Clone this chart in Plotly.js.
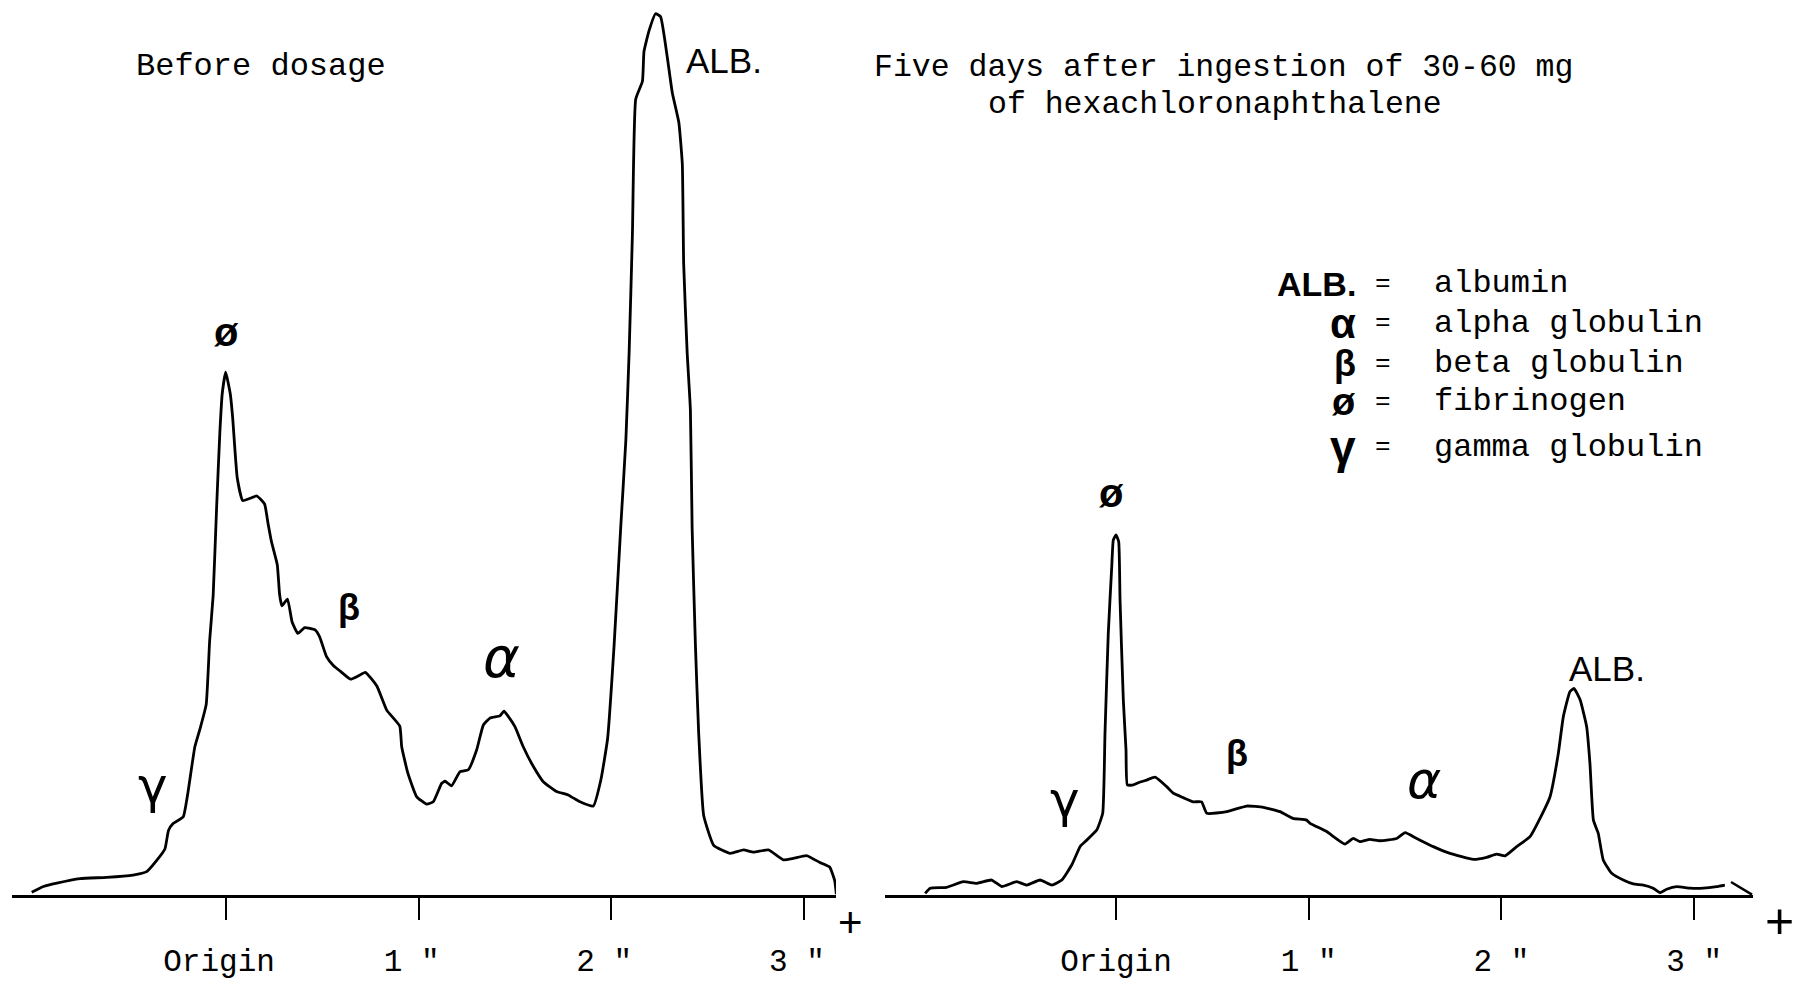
<!DOCTYPE html>
<html>
<head>
<meta charset="utf-8">
<script src="https://cdn.plot.ly/plotly-3.0.1.min.js"></script>
<style>
html,body{margin:0;padding:0;background:#fff;}
#chart{width:1796px;height:984px;}
</style>
</head>
<body>
<div id="chart"></div>
<script>
// ---- Data: densitometer traces (distance from origin in inches, relative density) ----
const beforeX = [-1.009,-0.948,-0.879,-0.758,-0.620,-0.483,-0.412,-0.359,-0.317,-0.299,-0.275,-0.222,-0.198,-0.162,-0.133,-0.103,-0.085,-0.067,-0.049,-0.032,-0.020,-0.002,0.022,0.034,0.058,0.087,0.159,0.200,0.218,0.236,0.266,0.278,0.290,0.319,0.343,0.373,0.408,0.462,0.486,0.521,0.557,0.593,0.646,0.688,0.723,0.783,0.834,0.902,0.912,0.944,0.990,1.042,1.076,1.119,1.137,1.171,1.215,1.258,1.301,1.336,1.370,1.422,1.443,1.466,1.500,1.543,1.595,1.647,1.716,1.776,1.838,1.907,1.946,1.981,2.015,2.049,2.076,2.093,2.110,2.127,2.162,2.170,2.196,2.230,2.256,2.291,2.317,2.351,2.369,2.376,2.394,2.411,2.420,2.437,2.454,2.480,2.532,2.618,2.687,2.739,2.816,2.894,2.945,3.014,3.083,3.134,3.160,3.169];
const beforeY = [0.26,0.91,1.30,1.82,1.95,2.21,2.60,3.90,5.20,7.28,8.06,8.84,11.57,16.78,18.99,21.59,28.87,33.94,43.95,52.54,56.83,59.30,56.83,54.23,47.33,44.73,45.25,44.34,42.13,40.05,37.45,34.07,32.77,33.55,30.95,29.65,30.30,30.04,29.26,27.05,26.01,25.36,24.45,24.84,25.23,23.67,20.94,19.12,16.78,13.78,11.10,10.27,10.53,12.61,12.87,12.35,13.95,14.17,16.41,19.25,20.03,20.29,20.81,20.20,19.06,16.78,14.56,12.81,11.70,11.31,10.53,10.05,13.00,17.69,28.35,41.61,51.63,61.64,75.03,90.30,92.33,95.71,98.05,100.00,99.67,95.06,91.03,87.65,82.96,71.65,61.64,55.01,41.61,28.35,18.34,8.97,5.59,4.68,5.07,4.81,5.07,3.95,4.10,4.42,3.64,3.12,1.61,0.00];

const afterX = [-0.990,-0.964,-0.878,-0.792,-0.723,-0.645,-0.593,-0.515,-0.463,-0.394,-0.333,-0.281,-0.229,-0.186,-0.160,-0.100,-0.069,-0.057,-0.040,-0.022,-0.014,0.000,0.014,0.021,0.038,0.052,0.059,0.090,0.116,0.159,0.203,0.263,0.298,0.349,0.401,0.444,0.471,0.575,0.678,0.765,0.851,0.919,0.989,1.007,1.093,1.188,1.231,1.266,1.317,1.370,1.456,1.500,1.560,1.646,1.733,1.854,1.923,1.975,2.018,2.079,2.148,2.200,2.252,2.295,2.321,2.355,2.376,2.408,2.442,2.459,2.477,2.502,2.528,2.572,2.632,2.684,2.736,2.787,2.822,2.857,2.909,2.978,3.047,3.116,3.159];
const afterY = [0.13,0.72,0.82,1.46,1.27,1.65,0.91,1.46,1.08,1.65,1.08,1.65,3.38,5.46,6.01,7.32,9.23,18.34,29.65,37.23,40.25,40.83,40.05,33.45,22.11,16.41,12.44,12.44,12.70,13.00,13.32,12.25,11.50,11.00,10.53,10.53,9.23,9.41,10.05,9.91,9.41,8.65,8.45,8.09,7.15,5.73,6.37,6.01,6.27,6.11,6.37,7.02,6.37,5.44,4.68,3.99,4.23,4.60,4.38,5.44,6.57,8.65,11.11,16.03,20.20,23.03,23.41,22.11,19.06,14.90,8.45,6.96,3.93,2.41,1.65,1.20,1.08,0.72,0.21,0.60,0.90,0.72,0.72,0.90,1.08];

const tickVals = [0, 1, 2, 3];
const tickText = ['Origin', '1 "', '2 "', '3 "'];

const legendSymbols = ['ALB.', 'α', 'β', 'ø', 'γ'];
const legendNames = ['albumin', 'alpha globulin', 'beta globulin', 'fibrinogen', 'gamma globulin'];

const leftTitle = 'Before dosage';
const rightTitle1 = 'Five days after ingestion of 30-60 mg';
const rightTitle2 = 'of hexachloronaphthalene';

// ---- Layout helpers (canvas pixels -> paper) ----
const W = 1796, H = 984;
const px = v => v / W;
const py = v => 1 - v / H;
const MONO = 'Liberation Mono, DejaVu Sans Mono, monospace';
const SANS = 'Liberation Sans, Arial, sans-serif';

function ann(text, x, y, size, family, extra) {
  return Object.assign({
    text: text, x: px(x), y: py(y), xref: 'paper', yref: 'paper',
    showarrow: false, xanchor: 'center', yanchor: 'middle', borderpad: 0,
    font: {family: family, size: size, color: '#000'}
  }, extra || {});
}

const traceStyle = {mode: 'lines', line: {color: '#000', width: 2.8, shape: 'spline', smoothing: 0.4}, hoverinfo: 'skip', showlegend: false};
const traces = [
  Object.assign({x: beforeX, y: beforeY, xaxis: 'x', yaxis: 'y'}, traceStyle),
  Object.assign({x: afterX, y: afterY, xaxis: 'x2', yaxis: 'y2'}, traceStyle)
];

const axisCommon = {
  showline: true, linecolor: '#000', linewidth: 3,
  ticks: 'outside', ticklen: 22, tickwidth: 2, tickcolor: '#000',
  tickvals: tickVals, ticktext: tickText,
  tickfont: {family: MONO, size: 31, color: '#000'},
  ticklabelstandoff: 14,
  showgrid: false, zeroline: false, automargin: false, fixedrange: true
};
const yCommon = {range: [0, 101.56], domain: [0.0909, 1], visible: false, showgrid: false, zeroline: false, fixedrange: true};

const annotations = [
  ann(leftTitle, 261, 66, 32, MONO),
  ann(rightTitle1, 873, 67, 31.5, MONO, {xanchor: 'left'}),
  ann(rightTitle2, 987, 104, 31.5, MONO, {xanchor: 'left'}),
  // left panel peak labels
  ann('ALB.', 724, 60, 35, SANS),
  ann('<b>ø</b>', 226, 332, 40, SANS),
  ann('<b>β</b>', 349, 607, 36, SANS),
  ann('<i>α</i>', 502, 657, 56, 'DejaVu Sans'),
  ann('γ', 153, 786, 50, 'DejaVu Sans'),
  // right panel peak labels
  ann('<b>ø</b>', 1111, 493, 40, SANS),
  ann('<b>β</b>', 1237, 753, 36, SANS),
  ann('<i>α</i>', 1424, 780, 52, 'DejaVu Sans'),
  ann('γ', 1065, 800, 50, 'DejaVu Sans'),
  ann('ALB.', 1607, 668, 35, SANS),
  // polarity signs
  ann('+', 850, 922, 42, SANS),
  ann('+', 1779, 921, 50, SANS)
];

const legendY = [284, 323, 364, 402, 447];
const legendSymSize = [34, 42, 36, 38, 46];
legendSymbols.forEach((s, i) => {
  annotations.push(ann('<b>' + s + '</b>', 1357, legendY[i], legendSymSize[i], SANS, {xanchor: 'right'}));
  annotations.push(ann('=', 1383, legendY[i], 26, MONO));
  annotations.push(ann(legendNames[i], 1433, legendY[i], 32, MONO, {xanchor: 'left'}));
});

const layout = {
  width: W, height: H,
  margin: {l: 0, r: 0, t: 0, b: 0, pad: 0},
  paper_bgcolor: '#fff', plot_bgcolor: 'rgba(0,0,0,0)',
  showlegend: false,
  xaxis: Object.assign({domain: [px(11.5), px(836)], range: [-1.114, 3.167], anchor: 'y', ticklabelshift: -7}, axisCommon),
  yaxis: Object.assign({anchor: 'x'}, yCommon),
  xaxis2: Object.assign({domain: [px(884.7), px(1753)], range: [-1.200, 3.305], anchor: 'y2'}, axisCommon),
  yaxis2: Object.assign({anchor: 'x2'}, yCommon),
  annotations: annotations,
  shapes: [
    // arrow tip at the end of the right-hand baseline
    {type: 'line', xref: 'paper', yref: 'paper', x0: px(1731), y0: py(882), x1: px(1752), y1: py(894.6),
     line: {color: '#000', width: 2.5}}
  ]
};

Plotly.newPlot('chart', traces, layout, {staticPlot: true, displayModeBar: false});
</script>
</body>
</html>
